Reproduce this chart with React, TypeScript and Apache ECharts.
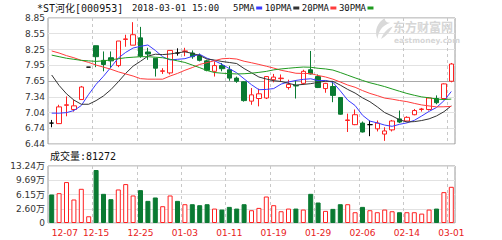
import React, { useEffect, useRef } from 'react';
import * as echarts from 'echarts';

// ---------- data ----------
const dates = ['12-07','12-08','12-11','12-12','12-13','12-14','12-15','12-18','12-19','12-20','12-21','12-22','12-25','12-26','12-27','12-28','12-29','01-02','01-03','01-04','01-05','01-08','01-09','01-10','01-11','01-12','01-15','01-16','01-17','01-18','01-19','01-22','01-23','01-24','01-25','01-26','01-29','01-30','01-31','02-01','02-02','02-05','02-06','02-07','02-08','02-09','02-12','02-13','02-14','02-22','02-23','02-26','02-27','02-28','03-01'];

const opens = [6.84,6.83,7.18,7.10,7.29,7.91,8.32,8.04,8.09,7.94,8.44,8.33,8.47,8.20,8.08,7.83,7.80,8.18,8.21,8.18,8.13,8.03,7.83,7.94,7.86,7.70,7.63,7.26,7.31,7.32,7.67,7.69,7.52,7.56,7.60,7.86,7.73,7.50,7.54,7.33,6.89,6.81,6.84,6.81,6.73,6.63,6.71,6.92,6.88,7.00,7.10,7.10,7.31,7.31,7.64];
const closes = [6.84,7.15,7.19,7.17,7.53,7.91,8.11,7.96,8.03,8.41,8.45,8.53,8.12,8.16,7.89,7.84,8.23,8.18,8.22,8.11,8.04,7.85,7.94,7.88,7.70,7.64,7.27,7.38,7.40,7.73,7.72,7.70,7.58,7.55,7.83,7.78,7.52,7.60,7.37,7.01,6.90,7.00,6.67,6.81,6.84,6.69,6.88,6.86,6.95,7.08,7.11,7.32,7.23,7.59,7.97];
const lows = [6.76,6.83,6.97,7.06,7.29,7.91,7.91,7.83,7.89,7.91,8.30,8.33,8.09,8.05,7.73,7.78,7.77,8.13,8.12,8.07,8.02,7.83,7.73,7.83,7.65,7.61,7.25,7.19,7.16,7.30,7.62,7.63,7.48,7.31,7.57,7.77,7.51,7.42,7.24,7.00,6.67,6.80,6.66,6.59,6.68,6.50,6.68,6.84,6.87,6.99,7.06,7.08,7.20,7.29,7.62];
const highs = [6.90,7.19,7.35,7.28,7.55,7.91,8.32,8.21,8.21,8.41,8.53,8.77,8.68,8.28,8.08,7.89,8.23,8.27,8.28,8.23,8.17,8.05,8.02,7.99,7.93,7.73,7.64,7.51,7.50,7.74,7.78,7.77,7.67,7.66,7.86,8.22,7.77,7.61,7.64,7.33,7.02,7.10,6.87,6.89,6.89,6.76,6.90,7.08,6.97,7.11,7.13,7.33,7.37,7.60,7.99];

const volumes = [64000,67000,91900,52800,76800,15100,119000,65500,53500,75300,87400,61800,73800,49700,57300,37700,61800,49700,42200,42200,40000,42200,32400,30200,36200,32400,42200,28700,33900,59500,40000,26400,32400,32400,30200,65500,46000,27200,31700,42200,42200,24200,36200,28700,24200,30200,26400,24200,24200,24200,21100,30200,32400,69300,81272];

const ma5 = [7.03,7.03,7.04,7.08,7.176,7.39,7.582,7.736,7.908,8.084,8.192,8.276,8.308,8.334,8.23,8.108,8.048,8.06,8.072,8.116,8.156,8.08,8.032,7.964,7.882,7.802,7.686,7.574,7.478,7.484,7.50,7.586,7.626,7.656,7.676,7.688,7.652,7.656,7.62,7.456,7.28,7.176,6.99,6.878,6.844,6.802,6.778,6.816,6.844,6.892,6.976,7.064,7.138,7.266,7.444];
const ma10 = [7.76,7.56,7.40,7.28,7.20,7.20,7.27,7.36,7.48,7.63,7.791,7.929,8.022,8.121,8.157,8.15,8.162,8.184,8.203,8.173,8.132,8.064,8.046,8.018,7.999,7.979,7.883,7.803,7.721,7.683,7.651,7.636,7.60,7.567,7.58,7.594,7.619,7.641,7.638,7.566,7.484,7.414,7.323,7.249,7.15,7.041,6.977,6.903,6.861,6.868,6.889,6.921,6.977,7.057,7.17];
const ma20 = [8.22,8.18,8.13,8.09,8.04,8.00,7.95,7.91,7.87,7.82,7.78,7.74,7.69,7.68,7.68,7.68,7.74,7.79,7.85,7.902,7.962,7.997,8.034,8.07,8.078,8.065,8.023,7.994,7.962,7.928,7.892,7.85,7.823,7.793,7.79,7.787,7.751,7.722,7.68,7.625,7.568,7.525,7.462,7.408,7.365,7.318,7.298,7.272,7.25,7.217,7.187,7.168,7.15,7.152,7.159];
const ma30 = [8.14,8.11,8.08,8.06,8.04,8.03,8.02,8.03,8.05,8.07,8.09,8.10,8.11,8.11,8.10,8.09,8.06,8.03,8.00,7.95,7.90,7.845,7.807,7.794,7.786,7.78,7.784,7.794,7.81,7.829,7.858,7.876,7.889,7.902,7.912,7.908,7.888,7.876,7.854,7.807,7.756,7.705,7.656,7.611,7.576,7.538,7.493,7.449,7.407,7.372,7.341,7.324,7.30,7.29,7.299];

const priceTickLabels = ['6.44','6.74','7.04','7.34','7.65','7.95','8.25','8.55','8.85'];
const volumeTickLabels = ['0','2.60万','6.15万','9.69万','13.24万'];

const stockName = '*ST河化[000953]';
const dateText = '2018-03-01';
const timeText = '15:00';
const volumeTitle = '成交量:81272';
const maNames = ['5PMA','10PMA','20PMA','30PMA'];

// ---------- styles ----------
const RED = '#ff2020';
const GREEN = '#0a7a32';
const MA_COLORS = ['#3a3aff', '#333333', '#ff3c3c', '#1f9a1f'];
const PRICE_MIN = 6.44;
const PRICE_MAX = 8.85;
const VOL_MAX = 128000;

echarts.graphic.registerShape(
  'emlogo',
  echarts.graphic.extendPath(
    'M13 0 C5 5 1 13 5 22 C6 14 10 8 19 5 C15 5 13 3 13 0 Z M9 22 C12 15 16 11 22 9 C19 14 15 19 9 22 Z',
    {}
  )
);

function buildOption() {
  const n = dates.length;
  const priceStep = (PRICE_MAX - PRICE_MIN) / (priceTickLabels.length - 1);
  const priceTickValues = priceTickLabels.map((_, k) => PRICE_MIN + k * priceStep);
  const volStep = VOL_MAX / (volumeTickLabels.length - 1);

  const candleData = dates.map((_, i) => [opens[i], closes[i], lows[i], highs[i]]);
  const volData = volumes.map((v, i) => {
    let up: boolean;
    if (closes[i] > opens[i]) up = true;
    else if (closes[i] < opens[i]) up = false;
    else up = i > 0 && closes[i] > closes[i - 1];
    return {
      value: v,
      itemStyle: up
        ? { color: '#ffffff', borderColor: RED, borderWidth: 1 }
        : { color: GREEN, borderColor: GREEN, borderWidth: 1 },
    };
  });

  const gridLineColors = priceTickLabels.map((_, k) => (k === 4 ? '#a8a8a8' : '#e2e2e2'));

  const hiddenCat = (gridIndex: number) => ({
    type: 'category',
    gridIndex,
    data: dates,
    boundaryGap: true,
    axisLine: { show: false },
    axisTick: { show: false },
    axisLabel: { show: false },
    splitLine: { show: false },
  });
  const vLines = (gridIndex: number) => ({
    type: 'value',
    gridIndex,
    min: -0.5,
    max: n - 0.5,
    interval: 6,
    axisLine: { show: false },
    axisTick: { show: false },
    axisLabel: { show: false },
    splitLine: { show: true, lineStyle: { color: '#c8c8c8', width: 1, type: [3, 3] } },
  });

  const maSeries = [ma5, ma10, ma20, ma30].map((d, k) => ({
    type: 'line',
    name: maNames[k],
    xAxisIndex: 0,
    yAxisIndex: 0,
    data: d,
    symbol: 'none',
    silent: true,
    lineStyle: { color: MA_COLORS[k], width: 1 },
    z: 3,
  }));

  const headerFont = '"DejaVu Sans Mono", "Noto Sans CJK SC", monospace';
  const legendItems: any[] = [];
  let lx = 233;
  maNames.forEach((name, k) => {
    legendItems.push({
      type: 'text',
      x: lx,
      y: 8,
      style: { text: name, fill: '#111', fontSize: 9, fontFamily: headerFont, verticalAlign: 'middle', align: 'left' },
    });
    const w = name.length * 5.42;
    legendItems.push({
      type: 'rect',
      shape: { x: lx + w + 1.5, y: 6.5, width: 6, height: 3 },
      style: { fill: MA_COLORS[k] },
    });
    lx += w + 10;
  });

  return {
    animation: false,
    backgroundColor: '#ffffff',
    textStyle: { fontFamily: '"DejaVu Sans", "Noto Sans CJK SC", sans-serif' },
    grid: [
      { left: 48, top: 18, width: 407, height: 126, show: true, borderColor: '#9a9a9a', borderWidth: 1, backgroundColor: '#fff' },
      { left: 48, top: 166, width: 407, height: 57, show: true, borderColor: '#9a9a9a', borderWidth: 1, backgroundColor: '#fff' },
    ],
    xAxis: [
      hiddenCat(0),
      {
        type: 'category',
        gridIndex: 1,
        data: dates,
        boundaryGap: true,
        axisLine: { show: false },
        axisTick: { show: false },
        splitLine: { show: false },
        axisLabel: {
          interval: (i: number) => i % 6 === 0,
          color: '#e82020',
          fontSize: 9,
          margin: 5,
          alignMinLabel: 'left',
          fontFamily: '"DejaVu Sans", sans-serif',
        },
      },
      vLines(0),
      vLines(1),
    ],
    yAxis: [
      {
        type: 'value',
        gridIndex: 0,
        min: PRICE_MIN,
        max: PRICE_MAX,
        axisLine: { show: false },
        axisTick: { show: false, customValues: priceTickValues },
        axisLabel: {
          customValues: priceTickValues,
          formatter: (v: number) => priceTickLabels[Math.round((v - PRICE_MIN) / priceStep)],
          color: '#333',
          fontSize: 9,
          margin: 3,
        },
        splitLine: { show: true, lineStyle: { color: gridLineColors, width: 1 } },
      },
      {
        type: 'value',
        gridIndex: 1,
        min: 0,
        max: VOL_MAX,
        interval: volStep,
        axisLine: { show: false },
        axisTick: { show: false },
        axisLabel: {
          formatter: (v: number) => volumeTickLabels[Math.round(v / volStep)],
          color: '#333',
          fontSize: 9,
          margin: 3,
        },
        splitLine: { show: true, lineStyle: { color: '#e2e2e2', width: 1 } },
      },
    ],
    graphic: [
      {
        type: 'emlogo',
        x: 373,
        y: 18,
        scaleX: 0.9,
        scaleY: 0.95,
        style: { fill: '#d9d9d9' },
        z: 1,
        silent: true,
      },
      {
        type: 'text',
        x: 393,
        y: 26.5,
        style: { text: '东方财富网', fill: '#d6d6d6', fontSize: 12, fontWeight: 'bold', fontFamily: '"Noto Sans CJK SC", sans-serif', verticalAlign: 'middle', align: 'left' },
        z: 1,
        silent: true,
      },
      {
        type: 'text',
        x: 394,
        y: 40,
        style: { text: 'eastmoney.com', fill: '#d6d6d6', fontSize: 7.5, fontWeight: 'bold', fontFamily: '"DejaVu Sans", sans-serif', verticalAlign: 'middle', align: 'left' },
        z: 1,
        silent: true,
      },
      {
        type: 'text',
        x: 37,
        y: 8,
        style: { text: stockName, fill: '#111', fontSize: 10, fontFamily: headerFont, verticalAlign: 'middle', align: 'left' },
      },
      {
        type: 'text',
        x: 132,
        y: 8,
        style: { text: dateText, fill: '#111', fontSize: 9, fontFamily: headerFont, verticalAlign: 'middle', align: 'left' },
      },
      {
        type: 'text',
        x: 192,
        y: 8,
        style: { text: timeText, fill: '#111', fontSize: 9, fontFamily: headerFont, verticalAlign: 'middle', align: 'left' },
      },
      ...legendItems,
      {
        type: 'text',
        x: 50,
        y: 156,
        style: { text: volumeTitle, fill: '#111', fontSize: 10, fontFamily: headerFont, verticalAlign: 'middle', align: 'left' },
      },
    ],
    series: [
      {
        type: 'candlestick',
        xAxisIndex: 0,
        yAxisIndex: 0,
        data: candleData,
        barWidth: 5,
        silent: true,
        itemStyle: {
          color: '#ffffff',
          color0: GREEN,
          borderColor: RED,
          borderColor0: GREEN,
          borderColorDoji: '#000000',
          borderWidth: 1,
        },
        z: 2,
      },
      ...maSeries,
      {
        type: 'bar',
        xAxisIndex: 1,
        yAxisIndex: 1,
        data: volData,
        barWidth: 5,
        silent: true,
      },
    ],
  };
}

export default function App() {
  const ref = useRef<HTMLDivElement>(null);
  useEffect(() => {
    if (!ref.current) return;
    const chart = echarts.init(ref.current, null, { renderer: 'svg' });
    chart.setOption(buildOption() as any);
    return () => chart.dispose();
  }, []);
  return (
    <div
      ref={ref}
      style={{ position: 'absolute', left: 0, top: 0, width: 502, height: 240, background: '#fff' }}
    />
  );
}
